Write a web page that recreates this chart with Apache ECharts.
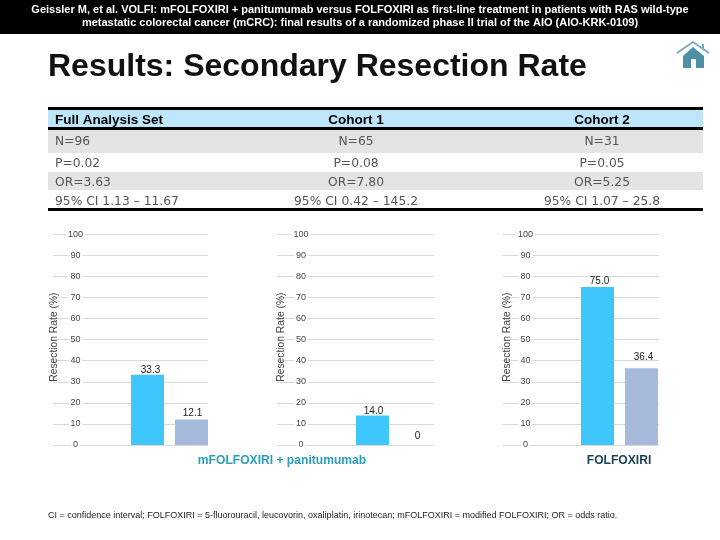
<!DOCTYPE html>
<html><head><meta charset="utf-8">
<style>html,body{margin:0;padding:0;background:#fff}#c{width:720px;height:540px}</style>
<script src="https://cdn.jsdelivr.net/npm/echarts@6/dist/echarts.min.js"></script>
</head><body><div id="c"></div>
<script>
const headerLines = ['Geissler M, et al. VOLFI: mFOLFOXIRI + panitumumab versus FOLFOXIRI as first-line treatment in patients with RAS wild-type','metastatic colorectal cancer (mCRC): final results of a randomized phase II trial of the AIO (AIO-KRK-0109)'];
const slideTitle = 'Results: Secondary Resection Rate';
const tableHead = ['Full Analysis Set','Cohort 1','Cohort 2'];
const rowN = ['N=96','N=65','N=31'];
const rowP = ['P=0.02','P=0.08','P=0.05'];
const rowOR = ['OR=3.63','OR=7.80','OR=5.25'];
const rowCI = ['95% CI 1.13 – 11.67','95% CI 0.42 – 145.2','95% CI 1.07 – 25.8'];
const armNames = ['mFOLFOXIRI + panitumumab','FOLFOXIRI'];
const fullSet = [33.3,12.1];
const cohort1 = [14.0,0];
const cohort2 = [75.0,36.4];
const valueLabels = [['33.3','12.1'],['14.0','0'],['75.0','36.4']];
const yTitle = 'Resection Rate (%)';
const footnote = 'CI = confidence interval; FOLFOXIRI = 5-fluorouracil, leucovorin, oxaliplatin, irinotecan; mFOLFOXIRI = modified FOLFOXIRI; OR = odds ratio.';

const panels = [
  {vals:fullSet, gl:53, gw:155, bl:125.5, axOff:-22.5, gap:21, off:[[3,2],[1,1]]},
  {vals:cohort1, gl:277,gw:157, bl:350.5, axOff:-24, gap:19.5, off:[[1,3],[1,-2]]},
  {vals:cohort2, gl:503,gw:156, bl:575.5, axOff:-22.5, gap:18, off:[[2,1],[2,-4]]}
];
const plotTop=234.3, plotH=210.7;
const grids=[],xAxes=[],yAxes=[],series=[];
panels.forEach((p,i)=>{
  grids.push({left:p.gl,top:plotTop,width:p.gw,height:plotH});
  grids.push({left:p.bl,top:plotTop,width:88,height:plotH});
  xAxes.push({gridIndex:2*i,type:'category',data:armNames,show:false});
  xAxes.push({gridIndex:2*i+1,type:'category',data:armNames,show:false});
  yAxes.push({gridIndex:2*i,type:'value',min:0,max:100,interval:10,offset:p.axOff,
    name:yTitle,nameLocation:'middle',nameGap:p.gap,nameRotate:90,
    nameTextStyle:{fontFamily:'Liberation Sans',fontSize:10.3,color:'#444',align:'center',verticalAlign:'middle',padding:[0,0,0,5]},
    axisLine:{show:false},axisTick:{show:false},
    axisLabel:{margin:0,align:'center',fontFamily:'Liberation Sans',fontSize:9,color:'#444',backgroundColor:'#fff',padding:[1,2]},
    splitLine:{lineStyle:{color:'#d9d9d9',width:1}}});
  yAxes.push({gridIndex:2*i+1,type:'value',min:0,max:100,interval:10,show:false});
  series.push({type:'bar',xAxisIndex:2*i+1,yAxisIndex:2*i+1,barWidth:33,z:3,
    data:p.vals.map((v,j)=>({value:v,itemStyle:{color:j?'#a6bbdb':'#3fc6fd'},
      label:{show:true,position:'top',distance:2,offset:p.off[j],formatter:valueLabels[i][j],
        fontFamily:'Liberation Sans',fontSize:10,color:'#222'}}))});
});

const T=(x,y,text,style)=>({type:'text',x,y,silent:true,z:10,style:Object.assign({text,fontFamily:'Liberation Sans',verticalAlign:'middle'},style)});
const R=(x,y,w,hh,fill)=>({type:'rect',silent:true,z:1,shape:{x,y,width:w,height:hh},style:{fill}});
const colX=[55,356,602];
const graphic=[
  R(0,0,720,34,'#000'),
  T(360,9.5,headerLines[0],{align:'center',fill:'#fff',fontSize:11,fontWeight:'bold'}),
  T(360,23,headerLines[1],{align:'center',fill:'#fff',fontSize:11,fontWeight:'bold'}),
  T(48,67,slideTitle,{fill:'#111',fontSize:32,fontWeight:'bold'}),
  R(48,107,655,3,'#000'),R(48,110,655,17,'#bde6fb'),R(48,127,655,3,'#000'),
  R(48,130,655,23,'#e4e4e4'),R(48,172,655,18,'#e4e4e4'),R(48,208,655,3,'#000'),
  {type:'polygon',silent:true,z:5,shape:{points:[[683,56],[683,68],[691,68],[691,59],[696,59],[696,68],[704,68],[704,56],[693,47]]},style:{fill:'#4e8fa8'}},
  {type:'polyline',silent:true,z:5,shape:{points:[[677,53],[693,42],[709,53]]},style:{stroke:'#6fa9bd',fill:'none',lineWidth:1.6}},
  R(702,44,2,5,'#6fa9bd')
];
[rowN,rowP,rowOR,rowCI].forEach((row,r)=>{
  const y=[142,164,183,202][r];
  row.forEach((s,c)=>graphic.push(T(colX[c],y,s,{align:c?'center':'left',fill:'#555',fontSize:12.3,fontFamily:'DejaVu Sans'})));
});
tableHead.forEach((s,c)=>graphic.push(T(colX[c],120,s,{align:c?'center':'left',fill:'#000',fontSize:13.5,fontWeight:'bold'})));
graphic.push(T(282,461,armNames[0],{align:'center',fill:'#2a9dbb',fontSize:12.1,fontWeight:'bold'}));
graphic.push(T(619,461,armNames[1],{align:'center',fill:'#173f55',fontSize:12.1,fontWeight:'bold'}));
graphic.push(T(48,516,footnote,{fill:'#222',fontSize:9}));

echarts.init(document.getElementById('c'),null,{renderer:'canvas'}).setOption({
  animation:false,backgroundColor:'#fff',grid:grids,xAxis:xAxes,yAxis:yAxes,series,graphic
});
</script></body></html>
